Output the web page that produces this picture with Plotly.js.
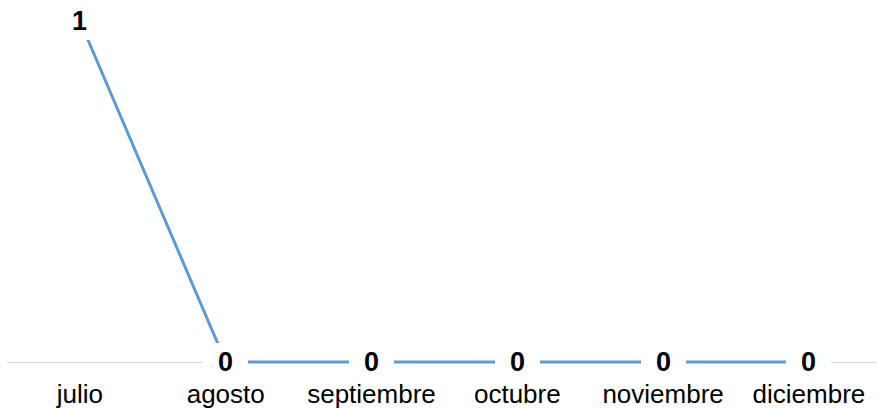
<!DOCTYPE html>
<html>
<head>
<meta charset="utf-8">
<script src="https://cdn.plot.ly/plotly-3.0.1.min.js"></script>
<style>html,body{margin:0;padding:0;background:#fff;overflow:hidden;}#chart{width:877px;height:408px;}</style>
</head>
<body>
<div id="chart"></div>
<script>
const months = ["julio", "agosto", "septiembre", "octubre", "noviembre", "diciembre"];
const values = [1, 0, 0, 0, 0, 0];
const labels = ["1", "0", "0", "0", "0", "0"];

const FONT = "Liberation Sans, Arial, Helvetica, sans-serif";

const trace = {
  x: months,
  y: values,
  type: "scatter",
  mode: "lines",
  line: { color: "#5B9BD5", width: 3 },
  cliponaxis: false,
  hoverinfo: "skip"
};

const annotations = months.map((m, i) => ({
  x: m,
  y: values[i],
  xref: "x",
  yref: "y",
  text: "<b>" + labels[i] + "</b>",
  showarrow: false,
  bgcolor: "#ffffff",
  borderpad: 0,
  borderwidth: 0,
  width: 45,
  height: 38,
  xanchor: "center",
  yanchor: "middle",
  font: { family: FONT, size: 27, color: "#000000" }
}));

const layout = {
  width: 877,
  height: 408,
  margin: { l: 7, r: 0, t: 10, b: 36 },
  paper_bgcolor: "#ffffff",
  plot_bgcolor: "#ffffff",
  showlegend: false,
  xaxis: {
    type: "category",
    range: [-0.5, 5.467],
    showline: false,
    showgrid: false,
    zeroline: false,
    ticks: "",
    tickfont: { family: FONT, size: 26, color: "#000000" },
    ticklabelstandoff: 4
  },
  yaxis: {
    range: [-0.02933, 1.03226],
    showticklabels: false,
    ticks: "",
    showgrid: false,
    zeroline: true,
    zerolinecolor: "#D9D9D9",
    zerolinewidth: 1,
    layer: "below traces"
  },
  annotations: annotations
};

Plotly.newPlot("chart", [trace], layout, { displayModeBar: false, staticPlot: true });
</script>
</body>
</html>
